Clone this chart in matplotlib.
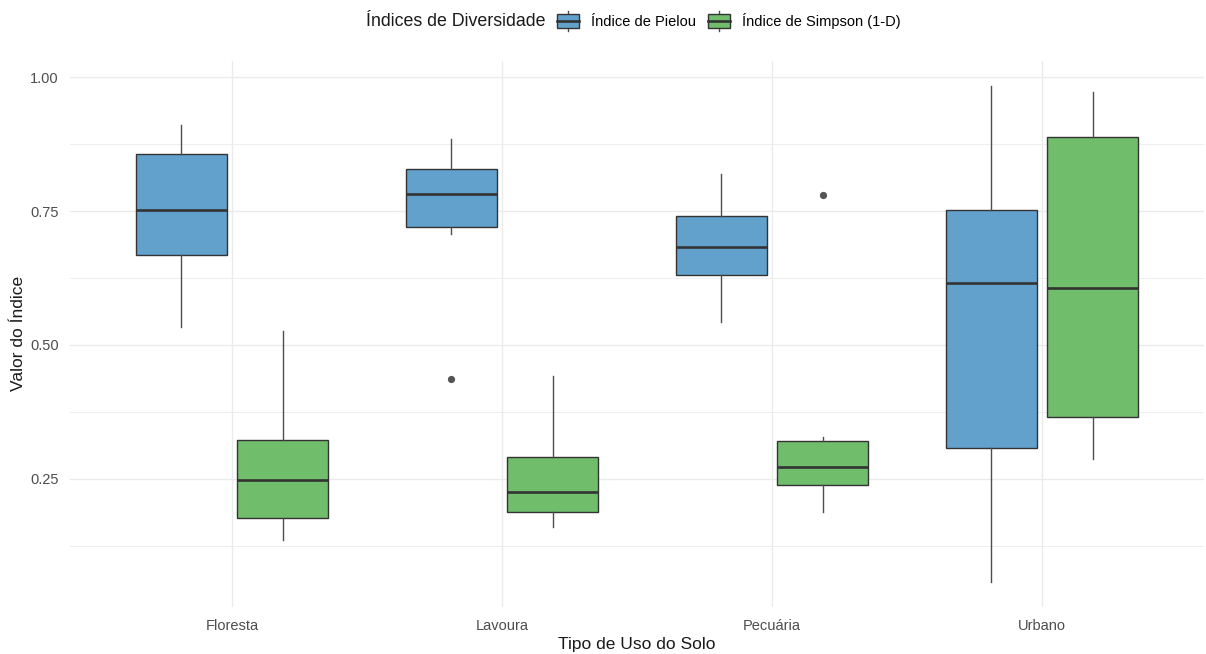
import matplotlib
matplotlib.use("Agg")
import matplotlib.pyplot as plt
from matplotlib.legend_handler import HandlerBase
from matplotlib.patches import Rectangle
from matplotlib.lines import Line2D

plt.rcParams['font.family'] = ['Liberation Sans', 'DejaVu Sans']

# Land-use categories and diversity indices
usos = ["Floresta", "Lavoura", "Pecuária", "Urbano"]
indices = ["Índice de Pielou", "Índice de Simpson (1-D)"]

# Box summaries per index (order follows `usos`)
pielou_whislo = [0.534, 0.707, 0.543, 0.058]
pielou_q1 = [0.668, 0.721, 0.631, 0.307]
pielou_med = [0.752, 0.782, 0.682, 0.615]
pielou_q3 = [0.856, 0.828, 0.741, 0.751]
pielou_whishi = [0.910, 0.884, 0.820, 0.984]
pielou_fliers = [[], [0.437], [], []]

simpson_whislo = [0.136, 0.160, 0.188, 0.287]
simpson_q1 = [0.177, 0.188, 0.239, 0.365]
simpson_med = [0.248, 0.225, 0.272, 0.606]
simpson_q3 = [0.323, 0.290, 0.320, 0.889]
simpson_whishi = [0.527, 0.442, 0.329, 0.973]
simpson_fliers = [[], [], [0.780], []]

cores = ["#1F78B4", "#33A02C"]
alpha = 0.7

y_ticks = [0.25, 0.50, 0.75, 1.00]
y_minor = [0.125, 0.375, 0.625, 0.875]


def blend(hex_color, a):
    r, g, b = matplotlib.colors.to_rgb(hex_color)
    return (a * r + (1 - a), a * g + (1 - a), a * b + (1 - a))


def make_stats(lo, q1, med, q3, hi, fl):
    return [dict(whislo=lo[i], q1=q1[i], med=med[i], q3=q3[i],
                 whishi=hi[i], fliers=fl[i]) for i in range(len(lo))]


series = [
    make_stats(pielou_whislo, pielou_q1, pielou_med, pielou_q3, pielou_whishi, pielou_fliers),
    make_stats(simpson_whislo, simpson_q1, simpson_med, simpson_q3, simpson_whishi, simpson_fliers),
]

fig = plt.figure(figsize=(12.06, 6.54), dpi=100)
ax = fig.add_axes([70 / 1206, 1 - 606.6 / 654, (1204 - 70) / 1206, (606.6 - 61) / 654])

dodge = 0.1875
box_w = 0.3375
edge = "#333333"
whisk = "#4D4D4D"

for k, stats in enumerate(series):
    pos = [i + 1 + (k - 0.5) * 2 * dodge for i in range(len(usos))]
    fill = blend(cores[k], alpha)
    ax.bxp(stats, positions=pos, widths=box_w, patch_artist=True,
           showcaps=False, manage_ticks=False,
           boxprops=dict(facecolor=fill, edgecolor=edge, linewidth=1.0),
           medianprops=dict(color=edge, linewidth=1.9, solid_capstyle='butt'),
           whiskerprops=dict(color=whisk, linewidth=1.0),
           flierprops=dict(marker='o', markersize=4.2, markerfacecolor='#555555',
                           markeredgecolor='#555555', linestyle='none'),
           zorder=3)

ax.set_xlim(0.4, 4.6)
ax.set_ylim(0.0117, 1.030)
ax.set_xticks(range(1, len(usos) + 1))
ax.set_xticklabels(usos)
ax.set_yticks(y_ticks)
ax.set_yticklabels([f"{v:.2f}" for v in y_ticks])
ax.set_yticks(y_minor, minor=True)

ax.grid(True, which='major', color='#EBEBEB', linewidth=1.0, zorder=0)
ax.grid(True, which='minor', axis='y', color='#EBEBEB', linewidth=0.6, zorder=0)
ax.set_axisbelow(True)
for s in ax.spines.values():
    s.set_visible(False)
ax.tick_params(which='both', length=0)
ax.tick_params(axis='both', labelsize=10.5, labelcolor='#4D4D4D')
ax.tick_params(axis='x', pad=9)
ax.tick_params(axis='y', pad=8)

ax.set_xlabel("Tipo de Uso do Solo", fontsize=12.5, color='#1A1A1A', labelpad=3)
ax.set_ylabel("Valor do Índice", fontsize=12.5, color='#1A1A1A', labelpad=3)


class BoxKey(HandlerBase):
    def create_artists(self, legend, orig_handle, xdescent, ydescent,
                       width, height, fontsize, trans):
        fc = orig_handle.get_facecolor()
        cx = width / 2 - xdescent
        y0 = -ydescent
        h = height
        arts = [
            Line2D([cx, cx], [y0 - 0.25 * h, y0 + 1.25 * h], color=whisk, lw=1.0),
            Rectangle((-xdescent + 1, y0), width - 2, h, facecolor=fc,
                      edgecolor=edge, lw=1.0),
            Line2D([-xdescent + 1, width - xdescent - 1], [y0 + h / 2, y0 + h / 2],
                   color=edge, lw=1.9),
        ]
        for a in arts:
            a.set_transform(trans)
        return arts


handles = [Rectangle((0, 0), 1, 1, facecolor=blend(c, alpha)) for c in cores]
fig.text(546 / 1206, 1 - 21 / 654, "Índices de Diversidade", ha='right', va='center',
         fontsize=12.8, color='#1A1A1A')
fig.legend(handles, indices, loc='center left', bbox_to_anchor=(556 / 1206, 1 - 21 / 654),
           ncol=2, frameon=False, handler_map={Rectangle: BoxKey()},
           handlelength=1.65, handleheight=1.0, handletextpad=0.75, columnspacing=0.75,
           fontsize=10.5, borderpad=0, borderaxespad=0)

fig.savefig("out.png", dpi=100, facecolor='white')
